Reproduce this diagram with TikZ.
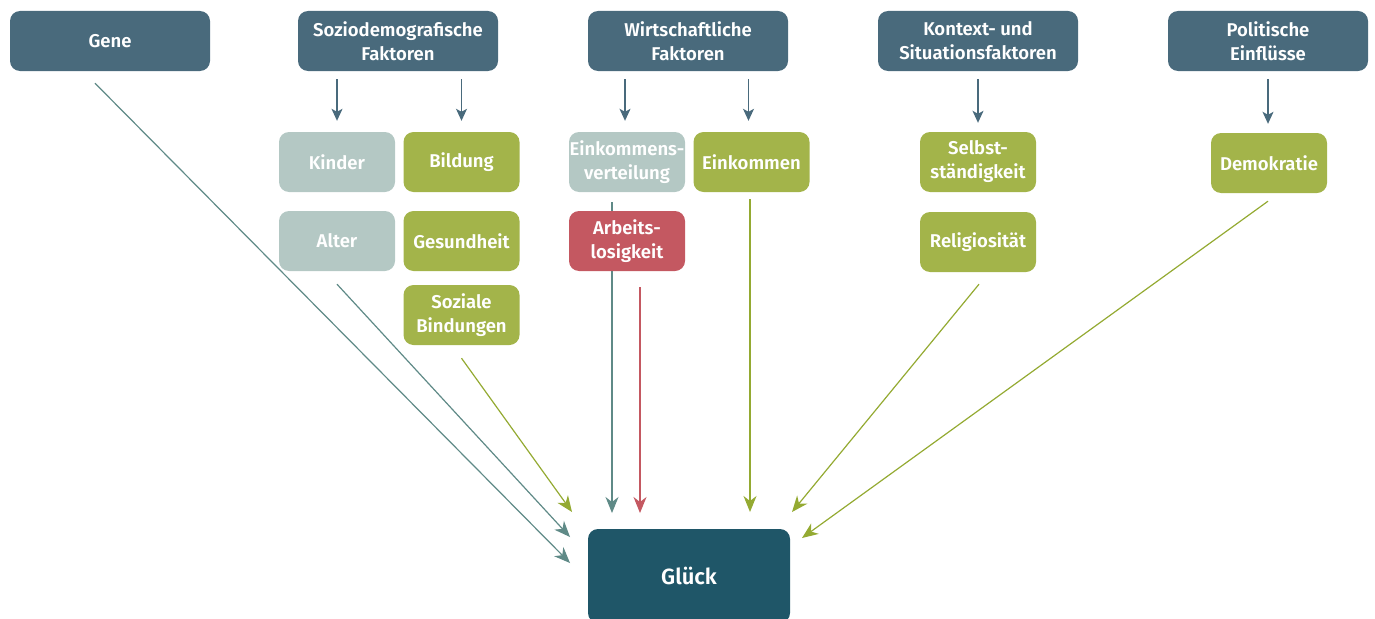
\documentclass[tikz,border=0pt]{standalone}
\usepackage{fontspec}
\setmainfont{Fira Sans}[UprightFont=* SemiBold]
\usetikzlibrary{arrows.meta,backgrounds}
\definecolor{topblue}{RGB}{73,106,124}
\definecolor{deepblue}{RGB}{31,86,104}
\definecolor{olive}{RGB}{163,180,74}
\definecolor{mist}{RGB}{180,200,196}
\definecolor{rose}{RGB}{196,88,97}
\definecolor{tealline}{RGB}{95,138,135}
\definecolor{greenline}{RGB}{148,170,50}
\begin{document}
\begin{tikzpicture}[x=1pt,y=-1pt,
  box/.style={rounded corners=10pt,text=white,align=center,inner sep=0pt,
    font=\fontsize{18.5}{24}\selectfont},
  headbox/.style={box,fill=topblue,minimum width=200pt,minimum height=60pt},
  smallbox/.style={box,minimum width=116pt,minimum height=60pt},
  posbox/.style={smallbox,fill=olive},
  neutralbox/.style={smallbox,fill=mist},
  negbox/.style={smallbox,fill=rose},
  downarr/.style={draw=topblue,line width=1.2pt,-{Stealth[length=12pt,width=11pt,inset=3pt]}},
  tealarr/.style={draw=tealline,line width=1.2pt,-{Stealth[length=16pt,width=13pt,inset=5pt]}},
  greenarr/.style={tealarr,draw=greenline},
  redarr/.style={tealarr,draw=rose}]
\useasboundingbox (0,0) rectangle (1375,618);
% obere Ebene
\node[headbox] (gene) at (110,41) {Gene};
\node[headbox] (sozio) at (398,41) {Soziodemografische\\Faktoren};
\node[headbox] (wirt) at (688,41) {Wirtschaftliche\\Faktoren};
\node[headbox] (kontext) at (978,41) {Kontext- und\\Situationsfaktoren};
\node[headbox] (polit) at (1268,41) {Politische\\Einflüsse};
% Einzelfaktoren
\node[neutralbox] (kinder) at (337,162) {Kinder};
\node[posbox] (bildung) at (461.5,162) {Bildung};
\node[neutralbox] (alter) at (337,241) {Alter};
\node[posbox] (gesund) at (461.5,241) {Gesundheit};
\node[posbox] (sozial) at (461.5,315) {Soziale\\Bindungen};
\node[neutralbox] (einkv) at (627,162) {Einkommens-\\verteilung};
\node[posbox] (eink) at (751.5,162) {Einkommen};
\node[negbox] (arbeit) at (627,241) {Arbeits-\\losigkeit};
\node[posbox] (selbst) at (978,162) {Selbst-\\ständigkeit};
\node[posbox] (relig) at (978,242) {Religiosität};
\node[posbox] (demo) at (1269,163) {Demokratie};
\node[box,fill=deepblue,minimum width=202pt,minimum height=94pt,
  font=\fontsize{22}{26}\selectfont] (glueck) at (689,576) {Glück};
% Pfeile nach unten
\draw[downarr,shorten <=8pt,shorten >=11pt] (sozio.south -| kinder.north) -- (kinder.north);
\draw[downarr,shorten <=8pt,shorten >=11pt] (sozio.south -| bildung.north) -- (bildung.north);
\draw[downarr,shorten <=8pt,shorten >=11pt] ([xshift=-2pt]wirt.south -| einkv.north) -- ([xshift=-2pt]einkv.north);
\draw[downarr,shorten <=8pt,shorten >=11pt] ([xshift=-3pt]wirt.south -| eink.north) -- ([xshift=-3pt]eink.north);
\draw[downarr,shorten <=8pt,shorten >=9pt] (kontext.south) -- (selbst.north);
\draw[downarr,shorten <=8pt,shorten >=9pt] (polit.south) -- ([xshift=-1pt]demo.north);
% Pfeile zum Glueck
\coordinate (g1) at (570,563);
\coordinate (g2) at (570,537);
\coordinate (g3) at (572,512);
\coordinate (g4) at (612,513);
\coordinate (g5) at (640,513);
\coordinate (g6) at (750,512);
\coordinate (g7) at (792,512);
\coordinate (g8) at (802,538);
\draw[tealarr] ([xshift=-15pt,yshift=-12pt]gene.south) -- (g1);
\draw[tealarr] ([yshift=-13pt]alter.south) -- (g2);
\draw[greenarr] ([yshift=-13pt]sozial.south) -- (g3);
\begin{scope}[on background layer]
\draw[tealarr] ([xshift=-15pt,yshift=-10pt]einkv.south) -- (g4);
\end{scope}
\draw[redarr] ([xshift=13pt,yshift=-16pt]arbeit.south) -- (g5);
\draw[greenarr] ([xshift=-1.5pt,yshift=-7pt]eink.south) -- (g6);
\draw[greenarr] ([xshift=1pt,yshift=-12pt]relig.south) -- (g7);
\draw[greenarr] ([xshift=-1pt,yshift=-8pt]demo.south) -- (g8);
\end{tikzpicture}
\end{document}
